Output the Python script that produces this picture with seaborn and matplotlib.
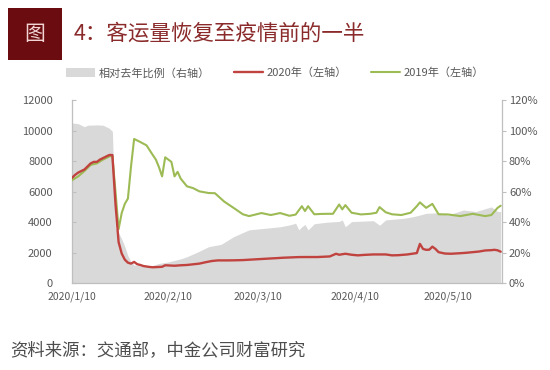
import matplotlib
matplotlib.use("Agg")
import matplotlib.pyplot as plt
from matplotlib.patches import Rectangle, Patch
from matplotlib.lines import Line2D
import seaborn as sns
import pandas as pd

sns.set_theme(style="white")
plt.rcParams['font.family'] = ['Noto Sans CJK SC', 'DejaVu Sans']

# ---------------- data ----------------
dates_2020 = ["2020-01-10", "2020-01-11", "2020-01-12", "2020-01-14", "2020-01-16", "2020-01-17",
              "2020-01-18", "2020-01-19", "2020-01-20", "2020-01-22", "2020-01-23", "2020-01-24",
              "2020-01-25", "2020-01-26", "2020-01-27", "2020-01-28", "2020-01-29", "2020-01-30",
              "2020-01-31", "2020-02-01", "2020-02-02", "2020-02-03", "2020-02-04", "2020-02-05",
              "2020-02-07", "2020-02-08", "2020-02-09", "2020-02-10", "2020-02-12", "2020-02-14",
              "2020-02-16", "2020-02-18", "2020-02-20", "2020-02-22", "2020-02-24", "2020-02-26",
              "2020-02-29", "2020-03-02", "2020-03-05", "2020-03-07", "2020-03-10", "2020-03-13",
              "2020-03-16", "2020-03-18", "2020-03-21", "2020-03-23", "2020-03-26", "2020-03-29",
              "2020-03-31", "2020-04-02", "2020-04-04", "2020-04-05", "2020-04-07", "2020-04-09",
              "2020-04-11", "2020-04-13", "2020-04-16", "2020-04-20", "2020-04-22", "2020-04-24",
              "2020-04-27", "2020-04-29", "2020-04-30", "2020-05-01", "2020-05-02", "2020-05-03",
              "2020-05-04", "2020-05-05", "2020-05-06", "2020-05-07", "2020-05-09", "2020-05-11",
              "2020-05-14", "2020-05-16", "2020-05-18", "2020-05-20", "2020-05-22", "2020-05-24",
              "2020-05-25", "2020-05-26", "2020-05-27"]
values_2020 = [6900, 7100, 7250, 7450, 7850, 7950,
               7950, 8100, 8200, 8400, 8400, 5200,
               2700, 1950, 1550, 1350, 1290, 1400,
               1250, 1200, 1130, 1100, 1070, 1050,
               1070, 1080, 1180, 1170, 1150, 1180,
               1200, 1245, 1290, 1380, 1460, 1500,
               1500, 1505, 1520, 1545, 1580, 1615,
               1650, 1675, 1700, 1717, 1720, 1720,
               1740, 1760, 1935, 1870, 1935, 1870,
               1830, 1860, 1890, 1890, 1830, 1840,
               1890, 1950, 1980, 2580, 2250, 2193,
               2200, 2400, 2250, 2040, 1950, 1935,
               1970, 2000, 2040, 2080, 2150, 2170,
               2193, 2160, 2070]

dates_2019 = ["2020-01-10", "2020-01-12", "2020-01-14", "2020-01-16", "2020-01-18", "2020-01-20",
              "2020-01-22", "2020-01-23", "2020-01-24", "2020-01-25", "2020-01-26", "2020-01-27",
              "2020-01-28", "2020-01-29", "2020-01-30", "2020-02-01", "2020-02-03", "2020-02-05",
              "2020-02-06", "2020-02-07", "2020-02-08", "2020-02-09", "2020-02-10", "2020-02-11",
              "2020-02-12", "2020-02-13", "2020-02-14", "2020-02-16", "2020-02-18", "2020-02-20",
              "2020-02-23", "2020-02-25", "2020-02-28", "2020-03-02", "2020-03-05", "2020-03-07",
              "2020-03-09", "2020-03-11", "2020-03-14", "2020-03-17", "2020-03-20", "2020-03-22",
              "2020-03-24", "2020-03-25", "2020-03-26", "2020-03-28", "2020-03-30", "2020-04-01",
              "2020-04-03", "2020-04-05", "2020-04-06", "2020-04-07", "2020-04-09", "2020-04-12",
              "2020-04-15", "2020-04-17", "2020-04-18", "2020-04-20", "2020-04-22", "2020-04-25",
              "2020-04-28", "2020-04-30", "2020-05-01", "2020-05-03", "2020-05-05", "2020-05-07",
              "2020-05-10", "2020-05-14", "2020-05-18", "2020-05-22", "2020-05-24", "2020-05-26",
              "2020-05-27"]
values_2019 = [6750, 7000, 7350, 7750, 7850, 8100,
               8300, 8350, 6000, 3550, 4600, 5200,
               5550, 7650, 9450, 9250, 9030, 8400,
               8100, 7600, 7000, 8250, 8100, 7950,
               7000, 7300, 6850, 6350, 6230, 6020,
               5910, 5900, 5350, 4940, 4520, 4400,
               4500, 4600, 4470, 4600, 4420, 4500,
               5050, 4730, 5050, 4520, 4540, 4550,
               4550, 5160, 4840, 5120, 4620, 4510,
               4550, 4620, 4990, 4650, 4520, 4470,
               4620, 5050, 5300, 4940, 5200, 4520,
               4510, 4400, 4550, 4400, 4470, 4940,
               5080]

dates_ratio = ["2020-01-10", "2020-01-12", "2020-01-14", "2020-01-15", "2020-01-18", "2020-01-20",
               "2020-01-22", "2020-01-23", "2020-01-24", "2020-01-25", "2020-01-26", "2020-01-27",
               "2020-01-28", "2020-01-29", "2020-01-30", "2020-02-01", "2020-02-04", "2020-02-07",
               "2020-02-10", "2020-02-14", "2020-02-16", "2020-02-20", "2020-02-23", "2020-02-27",
               "2020-03-02", "2020-03-07", "2020-03-12", "2020-03-17", "2020-03-20", "2020-03-22",
               "2020-03-23", "2020-03-24", "2020-03-25", "2020-03-26", "2020-03-28", "2020-04-01",
               "2020-04-05", "2020-04-06", "2020-04-07", "2020-04-09", "2020-04-16", "2020-04-18",
               "2020-04-20", "2020-04-26", "2020-04-29", "2020-05-01", "2020-05-03", "2020-05-07",
               "2020-05-10", "2020-05-15", "2020-05-19", "2020-05-24", "2020-05-26", "2020-05-27"]
values_ratio = [105, 104.5, 102.5, 103.5, 103.7, 103.5,
                101.5, 99.5, 36, 33, 29, 24,
                18, 14, 12, 11.5, 11, 13,
                14, 16, 17.4, 21, 24, 25.5,
                30.5, 35, 36, 37, 38.2, 39.3,
                35, 37, 38.5, 35, 39, 40,
                40.5, 41.5, 37, 40.4, 41, 38,
                41.5, 42.6, 43.7, 44.7, 45.8, 46.2,
                44.7, 48, 47, 50, 47, 47]

tick_dates = ["2020-01-10", "2020-02-10", "2020-03-10", "2020-04-10", "2020-05-10"]
tick_labels = ["2020/1/10", "2020/2/10", "2020/3/10", "2020/4/10", "2020/5/10"]

legend_labels = ["相对去年比例（右轴）", "2020年（左轴）", "2019年（左轴）"]
title_text = "4：客运量恢复至疫情前的一半"
source_text = "资料来源：交通部，中金公司财富研究"

# ---------------- styling ----------------
RED = "#c0433f"
GREEN = "#9dbb55"
GREY = "#d9d9d9"
TXT = "#595959"
SPINE = "#bfbfbf"

df20 = pd.DataFrame({"date": pd.to_datetime(dates_2020), "v": values_2020})
df19 = pd.DataFrame({"date": pd.to_datetime(dates_2019), "v": values_2019})
dfr = pd.DataFrame({"date": pd.to_datetime(dates_ratio), "v": values_ratio})

fig = plt.figure(figsize=(5.5, 3.7), dpi=100)
ax = fig.add_axes([0.1309, 0.2343, 0.7818, 0.4954])
ax2 = ax.twinx()
ax.set_zorder(ax2.get_zorder() + 1)
ax.patch.set_visible(False)

ax2.fill_between(dfr["date"], 0, dfr["v"], color=GREY, linewidth=0)

sns.lineplot(data=df19, x="date", y="v", ax=ax, color=GREEN, linewidth=1.5)
sns.lineplot(data=df20, x="date", y="v", ax=ax, color=RED, linewidth=1.7)

xmin = pd.Timestamp("2020-01-10")
xmax = pd.Timestamp("2020-05-27 10:00")
ax.set_xlim(xmin, xmax)
ax.set_ylim(0, 12000)
ax2.set_ylim(0, 120)
ax.set_yticks(range(0, 12001, 2000))
ax2.set_yticks(range(0, 121, 20))
ax2.set_yticklabels([f"{v}%" for v in range(0, 121, 20)])
ax.set_xticks(pd.to_datetime(tick_dates))
ax.set_xticklabels(tick_labels)
ax.set_xlabel("")
ax.set_ylabel("")
ax2.set_ylabel("")

for a in (ax, ax2):
    for s in a.spines.values():
        s.set_visible(False)
for s in ("left", "right", "bottom"):
    ax2.spines[s].set_visible(True)
    ax2.spines[s].set_color(SPINE)
    ax2.spines[s].set_linewidth(0.9)

ax.tick_params(axis="y", labelsize=8, labelcolor=TXT, color=SPINE, length=3,
               direction="in", width=0.8, pad=14)
ax.tick_params(axis="x", labelsize=7.5, labelcolor=TXT, color=SPINE, length=3,
               direction="in", width=0.8, pad=6)
ax2.tick_params(axis="y", labelsize=8, labelcolor=TXT, color=SPINE, length=3,
                direction="out", width=0.8, pad=2)

# legend
handles = [Patch(facecolor=GREY, edgecolor="none"),
           Line2D([], [], color=RED, linewidth=1.7),
           Line2D([], [], color=GREEN, linewidth=1.5)]
fig.legend(handles, legend_labels, loc="center", bbox_to_anchor=(0.5, 1 - 73 / 370), ncol=3,
           frameon=False, fontsize=8, handlelength=2.6, handleheight=0.9, columnspacing=2.2,
           handletextpad=0.3, labelcolor=TXT)

# title
fig.patches.append(Rectangle((8 / 550, 1 - 60 / 370), 54 / 550, 52 / 370,
                             transform=fig.transFigure, facecolor="#6b0d10", edgecolor="none"))
fig.text(35 / 550, 1 - 34 / 370, "图", color="#f2d4d4", fontsize=15, ha="center", va="center")
fig.text(74 / 550, 1 - 34 / 370, title_text, color="#8a2a2a", fontsize=15.5, ha="left", va="center")

# source
fig.text(10 / 550, 1 - 350 / 370, source_text, color="#4d4d4d", fontsize=12.5, ha="left", va="center")

fig.savefig("out.png", dpi=100)
